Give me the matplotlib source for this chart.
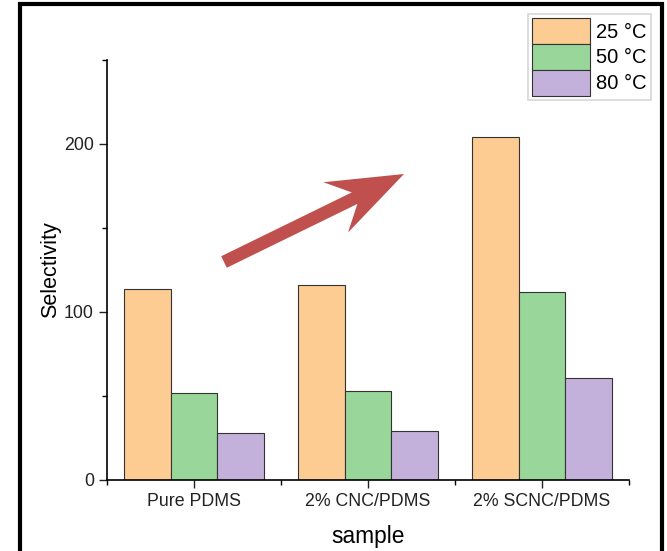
import numpy as np
import matplotlib
matplotlib.use("Agg")
import matplotlib.pyplot as plt
from matplotlib.patches import Rectangle, Polygon
from matplotlib.ticker import MultipleLocator

plt.rcParams['font.family'] = ['Liberation Sans', 'DejaVu Sans']

samples = ['Pure PDMS', '2% CNC/PDMS', '2% SCNC/PDMS']
temps = ['25 °C', '50 °C', '80 °C']
sel_25 = [113.7, 116.0, 204.0]
sel_50 = [51.8, 53.0, 112.0]
sel_80 = [28.0, 29.2, 60.7]
colors = ['#fdcc92', '#99d69a', '#c4b1db']

fig = plt.figure(figsize=(6.67, 5.51), dpi=100)
ax = fig.add_axes([107 / 667, 71 / 551, 522 / 667, 420 / 551])

x = np.arange(1, len(samples) + 1)
w = 0.27
for i, (vals, lab) in enumerate(zip([sel_25, sel_50, sel_80], temps)):
    ax.bar(x + (i - 1) * w, vals, width=w, color=colors[i], edgecolor='#333333',
           linewidth=0.8, label=lab)

ax.set_xlim(0.5, 3.5)
ax.set_ylim(0, 250)
ax.set_xticks(x)
ax.set_xticklabels(samples)
ax.set_xticks([0.5, 1.5, 2.5, 3.5], minor=True)
ax.yaxis.set_major_locator(MultipleLocator(100))
ax.yaxis.set_minor_locator(MultipleLocator(50))
ax.tick_params(axis='both', which='major', direction='out', length=6, width=1,
               labelsize=12.8, colors='#222222')
ax.tick_params(axis='both', which='minor', direction='out', length=3.5, width=1)
for s in ['top', 'right']:
    ax.spines[s].set_visible(False)
for s in ['left', 'bottom']:
    ax.spines[s].set_linewidth(1.2)

ax.set_xlabel('sample', fontsize=16.4, labelpad=11)
ax.set_ylabel('Selectivity', fontsize=15.5, labelpad=2)

leg = fig.legend(loc='upper right', bbox_to_anchor=(651 / 667, 1 - 14 / 551),
                 fontsize=14.5, frameon=True, fancybox=False, edgecolor='#cccccc',
                 handlelength=2.9, handleheight=1.6, labelspacing=0.0,
                 borderpad=0.2, handletextpad=0.3, borderaxespad=0)
leg.get_frame().set_linewidth(1.2)

# red arrow (figure pixel geometry)
tail = np.array([224.0, 262.0])
tip = np.array([404.0, 174.0])
d = (tip - tail) / np.linalg.norm(tip - tail)
n = np.array([d[1], -d[0]])
shaft, neck, barb_back, barb_half = 6.4, 55.0, 76.0, 28.0
pts = [tail + n * shaft, tip - d * neck + n * shaft, tip - d * barb_back + n * barb_half,
       tip, tip - d * barb_back - n * barb_half, tip - d * neck - n * shaft, tail - n * shaft]
pts = [(p[0] / 667, 1 - p[1] / 551) for p in pts]
fig.patches.append(Polygon(pts, closed=True, transform=fig.transFigure,
                           facecolor='#c0504d', edgecolor='none'))

# outer frame
fig.patches.append(Rectangle((20 / 667, -0.05), 642 / 667, 1.05 - 4 / 551,
                             transform=fig.transFigure, fill=False,
                             edgecolor='black', linewidth=3))

fig.savefig('out.png', dpi=100)
